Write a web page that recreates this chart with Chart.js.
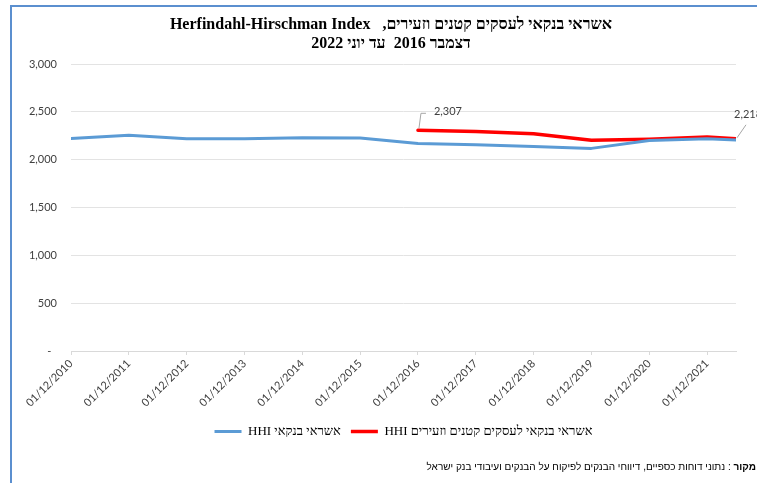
<!DOCTYPE html>
<html><head><meta charset="utf-8">
<script src="https://cdn.jsdelivr.net/npm/chart.js@4/dist/chart.umd.min.js"></script>
<style>
html,body{margin:0;padding:0;width:757px;height:483px;overflow:hidden;background:#fff;}
#frame{position:absolute;left:10px;top:5px;width:747px;height:478px;border-left:2px solid #5b8fcf;border-top:2px solid #5b8fcf;box-sizing:border-box;}
#wrap{position:absolute;left:12px;top:7px;width:745px;height:476px;}
#c{direction:rtl;}
#source{position:absolute;right:1px;top:461px;direction:rtl;font:10px "Liberation Sans",Arial,sans-serif;color:#000;white-space:nowrap;}
</style></head>
<body>
<div id="frame"></div>
<div id="wrap"><canvas id="c" dir="rtl"></canvas></div>
<div id="source"><b>מקור</b> : נתוני דוחות כספיים, דיווחי הבנקים לפיקוח על הבנקים ועיבודי בנק ישראל</div>
<script>
// ---- data ----
const pointDates = ['12/2010','12/2011','12/2012','12/2013','12/2014','12/2015','12/2016','12/2017','12/2018','12/2019','12/2020','12/2021','06/2022'];
const bankCreditHHI = [2222,2255,2218,2218,2230,2226,2170,2155,2137,2118,2200,2218,2205];
const smallBizDates = ['12/2016','12/2017','12/2018','12/2019','12/2020','12/2021','06/2022'];
const smallBizHHI = [2307,2295,2272,2202,2214,2236,2218];
const xTickLabels = ['01/12/2010','01/12/2011','01/12/2012','01/12/2013','01/12/2014','01/12/2015','01/12/2016','01/12/2017','01/12/2018','01/12/2019','01/12/2020','01/12/2021'];
const yTickValues = [0,500,1000,1500,2000,2500,3000];
const seriesNames = ['אשראי בנקאי HHI','אשראי בנקאי לעסקים קטנים וזעירים HHI'];
const titleLines = ['אשראי בנקאי לעסקים קטנים וזעירים,   Herfindahl-Hirschman Index','דצמבר 2016  עד יוני 2022'];

// month index relative to Dec 2010
function monthsFromMY(m, y){ return (y*12 + m) - (2010*12 + 12); }
function idxMY(s){ const p = s.split('/').map(Number); return monthsFromMY(p[0], p[1]); }
function idxDMY(s){ const p = s.split('/').map(Number); return monthsFromMY(p[1], p[2]); }
const xMin = idxMY(pointDates[0]);
const xMax = idxMY(pointDates[pointDates.length-1]);
const tickPos = xTickLabels.map(idxDMY);
const fmt = v => v.toLocaleString('en-US');

const titlePlugin = {
  id: 'offsetTitle',
  afterDraw(chart){
    const ctx = chart.ctx;
    ctx.save();
    ctx.fillStyle = '#000'; ctx.font = 'bold 16px "Liberation Serif"';
    ctx.textAlign = 'center'; ctx.textBaseline = 'middle';
    ctx.fillText(titleLines[0], 379, 18);
    ctx.fillText(titleLines[1], 379, 37);
    ctx.restore();
  }
};

const labelPlugin = {
  id: 'endLabels',
  afterDatasetsDraw(chart){
    const ctx = chart.ctx;
    const pts = chart.getDatasetMeta(1).data;
    const first = pts[0], last = pts[pts.length-1];
    ctx.save();
    ctx.strokeStyle = '#a6a6a6'; ctx.lineWidth = 1;
    ctx.beginPath(); ctx.moveTo(first.x+1, first.y-2); ctx.lineTo(first.x+3, first.y-17); ctx.lineTo(first.x+8, first.y-17); ctx.stroke();
    ctx.beginPath(); ctx.moveTo(last.x+1, last.y-1); ctx.lineTo(last.x+10, last.y-14); ctx.stroke();
    ctx.fillStyle = '#404040'; ctx.font = '11px Lato'; ctx.textBaseline = 'middle'; ctx.textAlign = 'left';
    ctx.fillText(fmt(smallBizHHI[0]), first.x+16, first.y-19);
    ctx.fillText(fmt(smallBizHHI[smallBizHHI.length-1]), last.x-2, last.y-24);
    ctx.restore();
  }
};

new Chart(document.getElementById('c'), {
  type: 'line',
  data: {
    datasets: [
      { label: seriesNames[0], data: pointDates.map((d,i)=>({x: idxMY(d), y: bankCreditHHI[i]})),
        borderColor: '#5B9BD5', backgroundColor: '#5B9BD5', borderWidth: 3, pointRadius: 0, tension: 0,
        borderJoinStyle: 'round', borderCapStyle: 'round' },
      { label: seriesNames[1], data: smallBizDates.map((d,i)=>({x: idxMY(d), y: smallBizHHI[i]})),
        borderColor: '#FF0000', backgroundColor: '#FF0000', borderWidth: 3.5, pointRadius: 0, tension: 0,
        borderJoinStyle: 'round', borderCapStyle: 'round' }
    ]
  },
  options: {
    responsive: true, maintainAspectRatio: false, animation: false,
    layout: { padding: { left: 12, right: 21, top: 57, bottom: 35 } },
    plugins: {
      tooltip: { enabled: false },
      title: { display: false },
      legend: { position: 'bottom', fullSize: false,
        labels: { usePointStyle: true, pointStyle: 'line', pointStyleWidth: 27, color: '#000', padding: 10,
          font: { family: 'Liberation Serif', size: 13 } } }
    },
    scales: {
      x: { type: 'linear', min: xMin, max: xMax,
        afterBuildTicks: s => { s.ticks = tickPos.map(v => ({value: v})); },
        afterFit: s => { s.height = 64; },
        grid: { drawOnChartArea: false, color: '#d9d9d9', tickLength: 4 },
        border: { display: true, color: '#d9d9d9' },
        ticks: { autoSkip: false, minRotation: 45, maxRotation: 45, color: '#404040', padding: 2,
          font: { family: 'Lato', size: 11 },
          callback: v => { const i = tickPos.indexOf(v); return i >= 0 ? xTickLabels[i] : ''; } } },
      y: { min: yTickValues[0], max: yTickValues[yTickValues.length-1],
        afterBuildTicks: s => { s.ticks = yTickValues.map(v => ({value: v})); },
        afterFit: s => { s.width = 47; },
        grid: { color: '#e3e3e3', drawTicks: false },
        border: { display: false },
        ticks: { padding: 14, color: '#404040', font: { family: 'Lato', size: 11 },
          callback: v => v === 0 ? '\u00A0\u00A0-' : fmt(v) } }
    }
  },
  plugins: [labelPlugin, titlePlugin]
});
</script>
</body></html>
